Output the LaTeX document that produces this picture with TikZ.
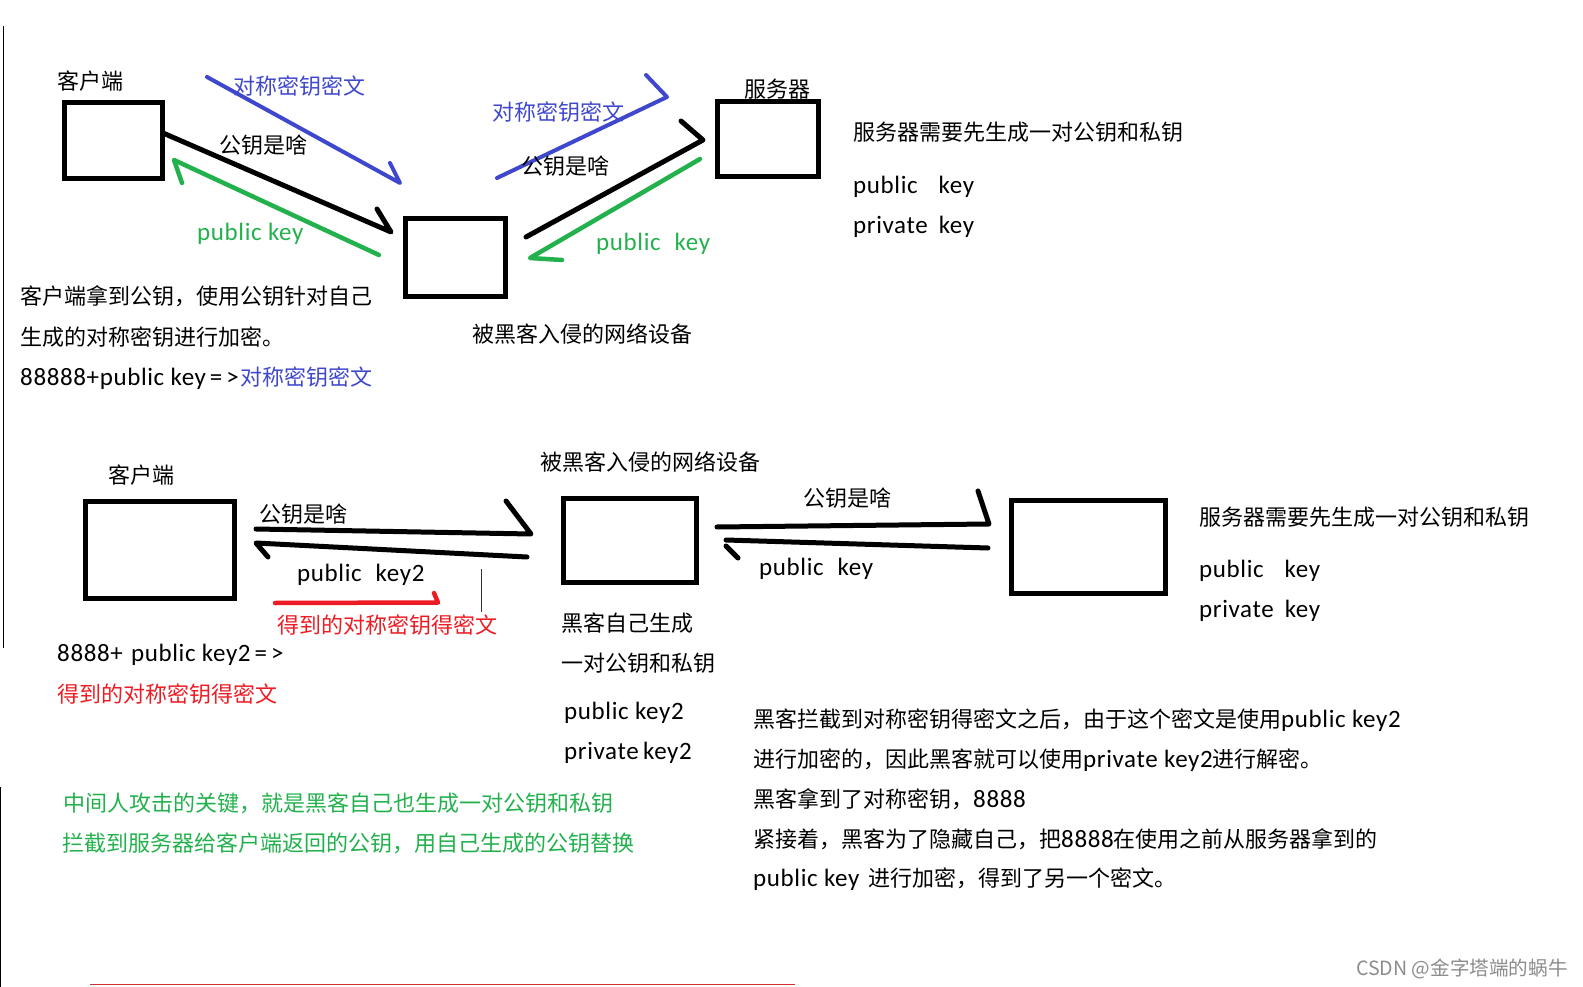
\documentclass[tikz,border=0pt]{standalone}
\usepackage{fontspec}
\setmainfont[LetterSpace=2.5]{Carlito}
\newfontfamily\cjk{Noto Sans CJK SC}
\newcommand{\C}[1]{{\cjk #1}}
\newcommand{\arr}{\hspace{4pt}=\hspace{4pt}>}
\definecolor{hblue}{HTML}{3F48CC}
\definecolor{hgreen}{HTML}{22B14C}
\definecolor{hred}{HTML}{ED1C24}
\definecolor{hdark}{HTML}{D03030}
\tikzset{
  txt/.style={anchor=base west,inner sep=0pt,font=\fontsize{22}{26}\selectfont,text=black},
  lat/.style={txt,font=\fontsize{25}{26}\selectfont},
  boxn/.style={draw=black,line width=5pt,inner sep=0pt,fill=none},
  pen/.style={line width=5pt,line cap=round,line join=round,draw=black},
  bluepen/.style={pen,line width=4pt,draw=hblue},
  greenpen/.style={pen,line width=4.5pt,draw=hgreen},
  redpen/.style={pen,line width=4.5pt,draw=hred},
  thin line/.style={line width=1pt,draw=black},
}
\begin{document}
\begin{tikzpicture}[x=1pt,y=-1pt]
\useasboundingbox (0,0) rectangle (1583,987);
% margin rules
\coordinate (r1a) at (3.5,26); \coordinate (r1b) at (3.5,648);
\coordinate (r2a) at (0.8,787); \coordinate (r2b) at (0.8,987);
\coordinate (r3a) at (90,984.5); \coordinate (r3b) at (795,984.5);
\draw[thin line] (r1a) -- (r1b);
\draw[thin line] (r2a) -- (r2b);
\draw[line width=1.2pt,draw=hdark] (r3a) -- (r3b);
% boxes
\node[boxn,minimum width=98pt,minimum height=76pt,anchor=north west] (client1) at (62,100) {};
\node[boxn,minimum width=100pt,minimum height=78pt,anchor=north west] (mid1) at (403,216) {};
\node[boxn,minimum width=101pt,minimum height=75pt,anchor=north west] (server1) at (715,99) {};
\node[boxn,minimum width=149pt,minimum height=97pt,anchor=north west] (client2) at (83,499) {};
\node[boxn,minimum width=133pt,minimum height=84pt,anchor=north west] (mid2) at (561,496) {};
\node[boxn,minimum width=154pt,minimum height=93pt,anchor=north west] (server2) at (1009,498) {};
% upper strokes
\coordinate (a1) at (163,133); \coordinate (a2) at (391,232); \coordinate (a3) at (377,209);
\draw[pen] (a1) -- (a2) -- (a3);
\coordinate (g1) at (379,255); \coordinate (g2) at (174,160); \coordinate (g3) at (182,183);
\draw[greenpen] (g1) -- (g2) -- (g3);
\coordinate (b1) at (207,77); \coordinate (b2) at (400,183); \coordinate (b3) at (390,163);
\draw[bluepen] (b1) -- (b2) -- (b3);
\coordinate (b4) at (497,178); \coordinate (b5) at (667,97); \coordinate (b6) at (646,75);
\draw[bluepen] (b4) -- (b5) -- (b6);
\coordinate (a4) at (526,237); \coordinate (a5) at (703,140); \coordinate (a6) at (681,121);
\draw[pen] (a4) -- (a5) -- (a6);
\coordinate (g4) at (700,159); \coordinate (g5) at (530,258); \coordinate (g6) at (562,260);
\draw[greenpen] (g4) -- (g5) -- (g6);
% lower strokes
\coordinate (c1) at (256,529); \coordinate (c2) at (531,534); \coordinate (c3) at (506,501);
\draw[pen] (c1) -- (c2) -- (c3);
\coordinate (c4) at (527,557); \coordinate (c5) at (256,543); \coordinate (c6) at (268,557);
\draw[pen] (c4) -- (c5) -- (c6);
\coordinate (d1) at (275,603); \coordinate (d2) at (438,602.5); \coordinate (d3) at (434,593);
\draw[redpen] (d1) -- (d2) -- (d3);
\coordinate (t1) at (481.5,569); \coordinate (t2) at (481.5,612);
\draw[line width=.8pt,draw=black!80] (t1) -- (t2);
\coordinate (e1) at (717,527); \coordinate (e2) at (989,524); \coordinate (e3) at (978,491);
\draw[pen] (e1) -- (e2) -- (e3);
\coordinate (e4) at (988,548); \coordinate (e5) at (726,540);
\draw[pen] (e4) -- (e5);
\coordinate (e6) at (726,546); \coordinate (e7) at (738,558);
\draw[pen] (e6) -- (e7);
% upper text
\node[txt] (t01) at (57,90) {\C{客户端}};
\node[txt,text=hblue] (t02) at (233,95) {\C{对称密钥密文}};
\node[txt,text=hblue] (t03) at (492,121) {\C{对称密钥密文}};
\node[txt] (t04) at (744,98) {\C{服务器}};
\node[txt] (t05) at (853,141) {\C{服务器需要先生成一对公钥和私钥}};
\node[lat] (t06) at (853,194) {public\hspace{21pt}key};
\node[lat] (t07) at (853,234) {private\hspace{11pt}key};
\node[txt] (t08) at (219,154) {\C{公钥是啥}};
\node[txt] (t09) at (521,175) {\C{公钥是啥}};
\node[lat,text=hgreen] (t10) at (197,241) {public key};
\node[lat,text=hgreen] (t11) at (596,251) {public\hspace{14pt}key};
\node[txt] (t12) at (20,305) {\C{客户端拿到公钥，使用公钥针对自己}};
\node[txt] (t13) at (20,345) {\C{生成的对称密钥进行加密。}};
\node[lat] (t14) at (20,385) {88888+public key\arr\textcolor{hblue}{\hspace{2pt}\fontsize{22}{26}\selectfont\C{对称密钥密文}}};
\node[txt] (t15) at (472,342) {\C{被黑客入侵的网络设备}};
% lower text
\node[txt] (t16) at (108,483) {\C{客户端}};
\node[txt] (t17) at (540,470) {\C{被黑客入侵的网络设备}};
\node[txt] (t18) at (259,522) {\C{公钥是啥}};
\node[txt] (t19) at (803,506) {\C{公钥是啥}};
\node[lat] (t20) at (297,581) {public\hspace{14pt}key2};
\node[lat] (t21) at (759,575) {public\hspace{14pt}key};
\node[txt,text=hred] (t22) at (277,633) {\C{得到的对称密钥得密文}};
\node[txt] (t23) at (1199,525) {\C{服务器需要先生成一对公钥和私钥}};
\node[lat] (t24) at (1199,577) {public\hspace{21pt}key};
\node[lat] (t25) at (1199,617) {private\hspace{11pt}key};
\node[lat] (t26) at (57,661) {8888+\hspace{2pt} public key2\arr};
\node[txt,text=hred] (t27) at (57,702) {\C{得到的对称密钥得密文}};
\node[txt] (t28) at (561,631) {\C{黑客自己生成}};
\node[txt] (t29) at (561,671) {\C{一对公钥和私钥}};
\node[lat] (t30) at (564,719) {public key2};
\node[lat] (t31) at (564,759) {private\hspace{-2pt} key2};
\node[lat] (t32) at (753,727) {\fontsize{22}{26}\selectfont\C{黑客拦截到对称密钥得密文之后，由于这个密文是使用}\fontsize{25}{26}\selectfont public key2};
\node[txt] (t33) at (753,767) {\C{进行加密的，因此黑客就可以使用}\fontsize{25}{26}\selectfont private key2\fontsize{22}{26}\selectfont\C{进行解密。}};
\node[txt] (t34) at (753,807) {\C{黑客拿到了对称密钥，}\fontsize{25}{26}\selectfont 8888};
\node[txt] (t35) at (753,847) {\C{紧接着，黑客为了隐藏自己，把}\fontsize{25}{26}\selectfont 8888\fontsize{22}{26}\selectfont\C{在使用之前从服务器拿到的}};
\node[lat] (t36) at (753,886) {public key\hspace{3pt} \fontsize{22}{26}\selectfont\C{进行加密，得到了另一个密文。}};
\node[txt,text=hgreen] (t37) at (63,811) {\C{中间人攻击的关键，就是黑客自己也生成一对公钥和私钥}};
\node[txt,text=hgreen] (t38) at (62,851) {\C{拦截到服务器给客户端返回的公钥，用自己生成的公钥替换}};
\node[txt,text=black!45,font=\fontsize{19.6}{22}\selectfont] (t39) at (1356,975) {\C{CSDN @金字塔端的蜗牛}};
\end{tikzpicture}
\end{document}
